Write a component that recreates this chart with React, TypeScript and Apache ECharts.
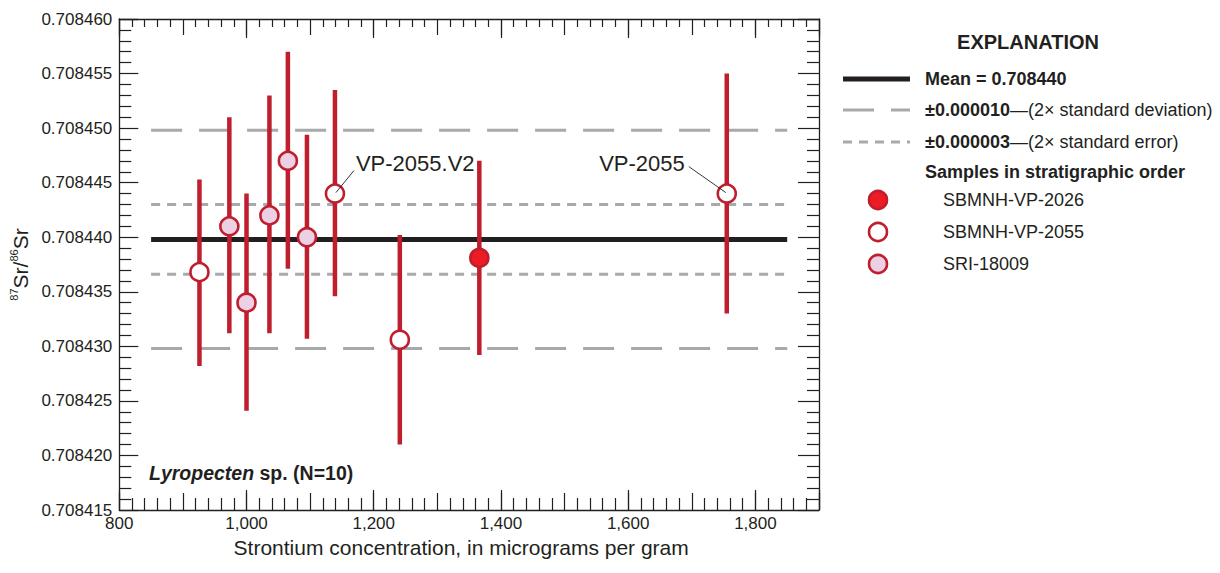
import React, { useEffect, useRef } from 'react';
import * as echarts from 'echarts';

// ---------------- data ----------------
const srConcentration = [926, 973, 1000, 1036, 1065, 1095, 1139, 1241, 1366, 1755];
const srRatio = [0.7084368, 0.708441, 0.708434, 0.708442, 0.708447, 0.70844, 0.708444, 0.7084306, 0.7084381, 0.708444];
const ratioLow = [0.7084282, 0.7084312, 0.7084241, 0.7084312, 0.7084371, 0.7084307, 0.7084346, 0.708421, 0.7084292, 0.708433];
const ratioHigh = [0.7084453, 0.708451, 0.708444, 0.708453, 0.708457, 0.7084494, 0.7084535, 0.7084402, 0.708447, 0.708455];
const sampleGroup = [
  'SBMNH-VP-2055', 'SRI-18009', 'SRI-18009', 'SRI-18009', 'SRI-18009',
  'SRI-18009', 'SBMNH-VP-2055', 'SBMNH-VP-2055', 'SBMNH-VP-2026', 'SBMNH-VP-2055',
];
const groupNames = ['SBMNH-VP-2026', 'SBMNH-VP-2055', 'SRI-18009'];
const meanRatio = 0.7084398;
const twoSD = 0.00001;
const twoSE = 0.0000032;
const refLineFrom = 850;
const refLineTo = 1850;
const xMin = 800;
const xMax = 1900;
const yMin = 0.708415;
const yMax = 0.70846;
const annotatedSamples = [6, 9];
const annotationLabels = ['VP-2055.V2', 'VP-2055'];
const xTitle = 'Strontium concentration, in micrograms per gram';

// ---------------- style ----------------
const FF = "'Liberation Sans', Arial, Helvetica, sans-serif";
const INK = '#231f20';
const RED = '#be1e2d';
const GRAY = '#a7a9ac';
const groupFill: Record<string, string> = {
  'SBMNH-VP-2026': '#ed1c24',
  'SBMNH-VP-2055': '#ffffff',
  'SRI-18009': '#ecd0e3',
};
const BASE = 0.708;
const toPlot = (r: number) => (r - BASE) * 1e6;
const annotationLayout = [
  { lx1: 1, ly1: -1, lx2: 19, ly2: -23, tx: 21, ty: -30, align: 'left' },
  { lx1: -1, ly1: -1, lx2: -38, ly2: -27, tx: -42, ty: -30, align: 'right' },
];

function buildOption(): any {
  const axisLine = { show: true, onZero: false, lineStyle: { color: INK, width: 1.3 } };
  const tickStyle = { color: INK, width: 1.2 };
  const xBase = { type: 'value', min: xMin, max: xMax, splitLine: { show: false }, gridIndex: 0 };
  const yBase = { type: 'value', min: toPlot(yMin), max: toPlot(yMax), interval: 5, splitLine: { show: false } };

  const hLine = (name: string, value: number, width: number, color: string, dash: any) => ({
    type: 'line',
    name,
    silent: true,
    symbol: 'none',
    z: 2,
    lineStyle: { color, width, type: dash, cap: 'butt' },
    data: [[refLineFrom, toPlot(value)], [refLineTo, toPlot(value)]],
  });

  const scatterSeries = groupNames.map((g) => ({
    type: 'scatter',
    name: g,
    z: 4,
    symbol: 'circle',
    symbolSize: 18,
    itemStyle: { color: groupFill[g], borderColor: RED, borderWidth: 2.6, opacity: 1 },
    data: srConcentration
      .map((x, i) => (sampleGroup[i] === g ? [x, toPlot(srRatio[i])] : null))
      .filter((d) => d !== null),
  }));

  const legendX = 843;
  const legendTextX = 925;
  const legendMarkerX = 878;
  const groupRows = [200, 232, 264];

  const graphic: any[] = [
    { type: 'text', x: 1028, y: 42, style: { text: 'EXPLANATION', font: `bold 20px ${FF}`, fill: INK, align: 'center', verticalAlign: 'middle', textAlign: 'center', textVerticalAlign: 'middle' } },
    { type: 'line', shape: { x1: legendX, y1: 79, x2: 910, y2: 79 }, style: { stroke: INK, lineWidth: 5 } },
    { type: 'text', x: legendTextX, y: 79, style: { text: 'Mean = 0.708440', font: `bold 18px ${FF}`, fill: INK, verticalAlign: 'middle', textVerticalAlign: 'middle' } },
    { type: 'line', shape: { x1: legendX, y1: 110, x2: 910, y2: 110 }, style: { stroke: GRAY, lineWidth: 3, lineDash: [31, 17] } },
    {
      type: 'text', x: legendTextX, y: 110,
      style: {
        text: '{b|±0.000010}{r|—(2× standard deviation)}', fill: INK, verticalAlign: 'middle', textVerticalAlign: 'middle',
        rich: { b: { font: `bold 18px ${FF}`, fill: INK }, r: { font: `18px ${FF}`, fill: INK } },
      },
    },
    { type: 'line', shape: { x1: legendX, y1: 142, x2: 910, y2: 142 }, style: { stroke: GRAY, lineWidth: 3, lineDash: [9, 7] } },
    {
      type: 'text', x: legendTextX, y: 142,
      style: {
        text: '{b|±0.000003}{r|—(2× standard error)}', fill: INK, verticalAlign: 'middle', textVerticalAlign: 'middle',
        rich: { b: { font: `bold 18px ${FF}`, fill: INK }, r: { font: `18px ${FF}`, fill: INK } },
      },
    },
    { type: 'text', x: legendTextX, y: 172, style: { text: 'Samples in stratigraphic order', font: `bold 18px ${FF}`, fill: INK, verticalAlign: 'middle', textVerticalAlign: 'middle' } },
    ...groupNames.flatMap((g, i) => [
      { type: 'circle', shape: { cx: legendMarkerX, cy: groupRows[i], r: 9 }, style: { fill: groupFill[g], stroke: RED, lineWidth: 2.6 } },
      { type: 'text', x: 943, y: groupRows[i], style: { text: g, font: `18px ${FF}`, fill: INK, verticalAlign: 'middle', textVerticalAlign: 'middle' } },
    ]),
    {
      type: 'text', x: 149, y: 473,
      style: {
        text: '{i|Lyropecten}{b| sp. (N=10)}', fill: INK, verticalAlign: 'middle', textVerticalAlign: 'middle',
        rich: { i: { font: `italic bold 19.5px ${FF}`, fill: INK }, b: { font: `bold 19.5px ${FF}`, fill: INK } },
      },
    },
  ];

  return {
    animation: false,
    backgroundColor: '#ffffff',
    grid: { left: 118, top: 19, width: 701, height: 491, containLabel: false },
    xAxis: [
      {
        ...xBase,
        position: 'bottom',
        interval: 200,
        axisLine,
        axisTick: { show: true, inside: true, length: 20, lineStyle: tickStyle },
        minorTick: { show: false },
        axisLabel: {
          show: true, margin: 5, color: INK, fontSize: 17, fontFamily: FF,
          formatter: (v: number) => (v === xMax ? '' : v.toLocaleString('en-US')),
        },
        name: xTitle,
        nameLocation: 'middle',
        nameGap: 27,
        nameTextStyle: { fontSize: 21, fontFamily: FF, color: INK, padding: [0, 16, 0, 0] },
      },
      {
        ...xBase,
        position: 'bottom',
        interval: 100,
        axisLine: { show: false, onZero: false },
        axisTick: { show: true, inside: true, length: 17, lineStyle: tickStyle },
        minorTick: { show: true, splitNumber: 5, length: 12, lineStyle: tickStyle },
        axisLabel: { show: false },
      },
      {
        ...xBase,
        position: 'top',
        interval: 200,
        axisLine,
        axisTick: { show: true, inside: true, length: 19, lineStyle: tickStyle },
        minorTick: { show: false },
        axisLabel: { show: false },
      },
      {
        ...xBase,
        position: 'top',
        interval: 100,
        axisLine: { show: false, onZero: false },
        axisTick: { show: true, inside: true, length: 16, lineStyle: tickStyle },
        minorTick: { show: true, splitNumber: 5, length: 8, lineStyle: tickStyle },
        axisLabel: { show: false },
      },
    ],
    yAxis: [
      {
        ...yBase,
        position: 'left',
        axisLine,
        axisTick: { show: true, inside: true, length: 19, lineStyle: tickStyle },
        minorTick: { show: true, splitNumber: 5, length: 12, lineStyle: tickStyle },
        axisLabel: {
          show: true, margin: 7, color: INK, fontSize: 17, fontFamily: FF,
          formatter: (v: number) => (BASE + v / 1e6).toFixed(6),
        },
        name: '{sup|87}{m|Sr/}{sup|86}{m|Sr}',
        nameLocation: 'middle',
        nameRotate: 90,
        nameGap: 84,
        nameTextStyle: {
          color: INK,
          rich: {
            sup: { fontSize: 11, fontFamily: FF, color: INK, verticalAlign: 'top', lineHeight: 24 },
            m: { fontSize: 21, fontFamily: FF, color: INK, verticalAlign: 'middle', lineHeight: 24 },
          },
        },
      },
      {
        ...yBase,
        position: 'right',
        axisLine,
        axisTick: { show: true, inside: true, length: 21, lineStyle: tickStyle },
        minorTick: { show: true, splitNumber: 5, length: 12, lineStyle: tickStyle },
        axisLabel: { show: false },
      },
    ],
    series: [
      hLine('Mean', meanRatio, 5, INK, 'solid'),
      hLine('+2SD', meanRatio + twoSD, 3, GRAY, [31, 17]),
      hLine('-2SD', meanRatio - twoSD, 3, GRAY, [31, 17]),
      hLine('+2SE', meanRatio + twoSE, 3, GRAY, [9, 7]),
      hLine('-2SE', meanRatio - twoSE, 3, GRAY, [9, 7]),
      {
        type: 'custom',
        name: 'error bars',
        z: 3,
        silent: true,
        encode: { x: 0, y: [1, 2] },
        data: srConcentration.map((x, i) => [x, toPlot(ratioLow[i]), toPlot(ratioHigh[i])]),
        renderItem: (params: any, api: any) => {
          const x = api.value(0);
          const lo = api.coord([x, api.value(1)]);
          const hi = api.coord([x, api.value(2)]);
          return {
            type: 'line',
            shape: { x1: lo[0], y1: lo[1], x2: hi[0], y2: hi[1] },
            style: { stroke: RED, lineWidth: 4.5 },
          };
        },
      },
      ...scatterSeries,
      {
        type: 'custom',
        name: 'annotations',
        z: 5,
        silent: true,
        encode: { x: 0, y: 1 },
        data: annotatedSamples.map((i) => [srConcentration[i], toPlot(srRatio[i])]),
        renderItem: (params: any, api: any) => {
          const p = api.coord([api.value(0), api.value(1)]);
          const L = annotationLayout[params.dataIndex];
          return {
            type: 'group',
            children: [
              {
                type: 'line',
                shape: { x1: p[0] + L.lx1, y1: p[1] + L.ly1, x2: p[0] + L.lx2, y2: p[1] + L.ly2 },
                style: { stroke: INK, lineWidth: 0.9 },
              },
              {
                type: 'text',
                x: p[0] + L.tx,
                y: p[1] + L.ty,
                style: {
                  text: annotationLabels[params.dataIndex],
                  font: `22px ${FF}`,
                  fill: INK,
                  align: L.align, textAlign: L.align,
                  verticalAlign: 'middle', textVerticalAlign: 'middle',
                },
              },
            ],
          };
        },
      },
    ],
    graphic,
  };
}

export default function App() {
  const ref = useRef<HTMLDivElement>(null);
  useEffect(() => {
    if (!ref.current) return;
    const chart = echarts.init(ref.current, undefined, { renderer: 'svg' });
    chart.setOption(buildOption());
    return () => chart.dispose();
  }, []);
  return (
    <div
      ref={ref}
      style={{ position: 'fixed', left: 0, top: 0, width: 1220, height: 573, background: '#fff' }}
    />
  );
}
